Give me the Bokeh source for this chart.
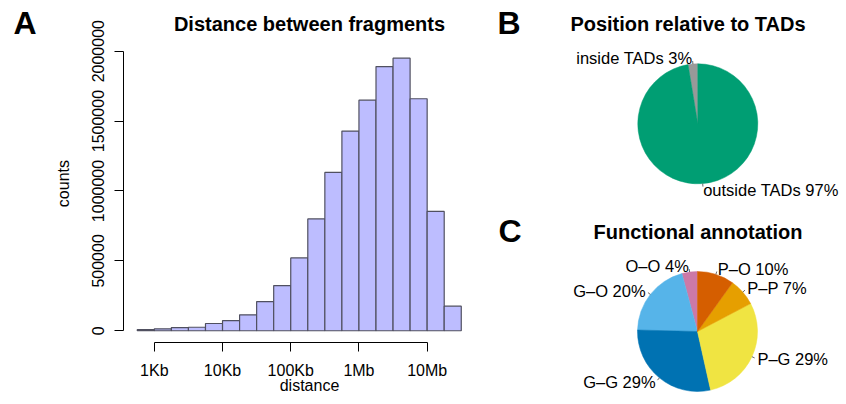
import math
from bokeh.plotting import figure
from bokeh.models import ColumnDataSource, FixedTicker, Label, Range1d
from bokeh.layouts import row, column
from bokeh.embed import file_html
from bokeh.resources import INLINE
from bokeh.core.properties import value, field

# ---------------- data ----------------
# Panel A: histogram of log10(distance), bins of 0.25 decades starting at 10^2.75
bin_start_log10 = 2.75
bin_width_log10 = 0.25
counts = [8000, 14000, 23000, 25000, 52000, 73000, 114000, 209000, 323000, 521000,
          800000, 1133000, 1429000, 1650000, 1890000, 1950000, 1660000, 854000, 176000]
x_ticks = [1000, 10000, 100000, 1000000, 10000000]
x_tick_labels = ["1Kb", "10Kb", "100Kb", "1Mb", "10Mb"]
y_ticks = [0, 500000, 1000000, 1500000, 2000000]
y_tick_labels = ["0", "500000", "1000000", "1500000", "2000000"]
x_lim_log10 = (2.75, 7.8)
y_lim = (0, 2100000)

# Panel B (counter-clockwise from 12 o'clock)
tad_names = ["inside TADs", "outside TADs"]
tad_pct = [2.6, 97.4]
tad_colors = ["#999999", "#009E73"]

# Panel C (counter-clockwise from 12 o'clock)
func_names = ["O\u2013O", "G\u2013O", "G\u2013G", "P\u2013G", "P\u2013P", "P\u2013O"]
func_pct = [4.2, 20.4, 28.9, 29.2, 7.4, 9.9]
func_colors = ["#CC79A7", "#56B4E9", "#0072B2", "#F0E442", "#E69F00", "#D55E00"]

FONT = "Liberation Sans"
TXT = "16px"

# ---------------- layout geometry (pixels) ----------------
H = 402                 # total height
L_W = 75                # strip holding the letter A and the y-axis title
A_W = 421               # histogram figure width
P_W = 348               # pie figures width
FRAME_LEFT, FRAME_RIGHT = 48, 1
FRAME_BOTTOM_BORDER = 60
PLOT_TOP_PX = 25        # where the y-limit sits inside the frame
frame_h = H - FRAME_BOTTOM_BORDER
frame_w = A_W - FRAME_LEFT - FRAME_RIGHT

# ---------------- strip: letter A + "counts" ----------------
pL = figure(width=L_W, height=H, x_range=Range1d(0, L_W), y_range=Range1d(0, frame_h),
            output_backend="svg", toolbar_location=None, title=None,
            min_border_left=0, min_border_right=0, min_border_top=0,
            min_border_bottom=FRAME_BOTTOM_BORDER,
            x_axis_location=None, y_axis_location=None)
pL.outline_line_color = None
pL.grid.visible = False
pL.add_layout(Label(x=13, y=frame_h - 22.5, text="A", text_font=FONT, text_font_size="32px",
                    text_font_style="bold", text_align="left", text_baseline="alphabetic",
                    text_color="black"))
pL.add_layout(Label(x=63, y=frame_h - 159.5, text="counts", angle=math.pi / 2,
                    text_font=FONT, text_font_size=TXT, text_align="right",
                    text_baseline="alphabetic", text_color="black"))

# ---------------- panel A ----------------
lo, hi = x_lim_log10
xpad = 0.04 * (hi - lo)
ypad = 0.04 * (y_lim[1] - y_lim[0])
y_bottom = y_lim[0] - ypad
y_plot_top = y_lim[1] + ypad
px_per_count = (frame_h - PLOT_TOP_PX) / (y_plot_top - y_bottom)
y_top = y_plot_top + PLOT_TOP_PX / px_per_count

pA = figure(width=A_W, height=H, x_axis_type="log",
            x_range=Range1d(10 ** (lo - xpad), 10 ** (hi + xpad)),
            y_range=Range1d(y_bottom, y_top),
            output_backend="svg", toolbar_location=None, title=None,
            min_border_left=FRAME_LEFT, min_border_right=FRAME_RIGHT, min_border_top=0,
            min_border_bottom=FRAME_BOTTOM_BORDER)
pA.outline_line_color = None
pA.grid.visible = False
pA.background_fill_color = "white"
pA.border_fill_color = "white"

n = len(counts)
edges = [10 ** (bin_start_log10 + i * bin_width_log10) for i in range(n + 1)]
srcA = ColumnDataSource(dict(left=edges[:-1], right=edges[1:], top=counts, bottom=[0] * n))
pA.quad(left="left", right="right", top="top", bottom="bottom", source=srcA,
        fill_color="#BDBDFF", line_color="#505060", line_width=1.2)

xa = pA.xaxis[0]
xa.ticker = FixedTicker(ticks=x_ticks, minor_ticks=[])
xa.major_label_overrides = {t: l for t, l in zip(x_ticks, x_tick_labels)}
xa.bounds = (x_ticks[0], x_ticks[-1])
xa.axis_label = "distance"
xa.axis_label_standoff = -5
xa.major_label_standoff = 10

ya = pA.yaxis[0]
ya.ticker = FixedTicker(ticks=y_ticks, minor_ticks=[])
ya.major_label_overrides = {t: l for t, l in zip(y_ticks, y_tick_labels)}
ya.bounds = (y_ticks[0], y_ticks[-1])
ya.major_label_orientation = "vertical"
ya.major_label_standoff = 10

for ax in (xa, ya):
    ax.minor_tick_line_color = None
    ax.minor_tick_out = 0
    ax.major_tick_in = 0
    ax.major_tick_out = 9
    ax.axis_line_color = "black"
    ax.major_tick_line_color = "black"
    ax.major_label_text_font = FONT
    ax.major_label_text_font_size = TXT
    ax.major_label_text_color = "black"
    ax.axis_label_text_font = FONT
    ax.axis_label_text_font_size = TXT
    ax.axis_label_text_font_style = "normal"
    ax.axis_label_text_color = "black"

pA.add_layout(Label(x=frame_w / 2, y=frame_h - 23.3, x_units="screen", y_units="screen",
                    text="Distance between fragments",
                    text_font=FONT, text_font_size="20px", text_font_style="bold",
                    text_align="center", text_baseline="alphabetic", text_color="black"))


# ---------------- pies ----------------
def pie_panel(names, pct, colors, fig_w, fig_h, center_px, title, title_px, letter, letter_px):
    scale = 60.0  # pixels per pie radius
    cx, cy = center_px
    p = figure(width=fig_w, height=fig_h,
               x_range=Range1d(-cx / scale, (fig_w - cx) / scale),
               y_range=Range1d(-(fig_h - cy) / scale, cy / scale),
               output_backend="svg", toolbar_location=None, min_border=0, title=None,
               x_axis_location=None, y_axis_location=None)
    p.outline_line_color = None
    p.grid.visible = False
    total = sum(pct)
    starts, ends, mids = [], [], []
    cum = 0.0
    for v in pct:
        f = v / total
        starts.append(math.pi / 2 + 2 * math.pi * cum)
        ends.append(math.pi / 2 + 2 * math.pi * (cum + f))
        mids.append(math.pi / 2 + 2 * math.pi * (cum + f / 2))
        cum += f
    src = ColumnDataSource(dict(
        start=starts, end=ends, color=colors,
        x0=[math.cos(m) for m in mids], y0=[math.sin(m) for m in mids],
        x1=[1.05 * math.cos(m) for m in mids], y1=[1.05 * math.sin(m) for m in mids],
        tx=[1.1 * math.cos(m) for m in mids], ty=[1.1 * math.sin(m) for m in mids],
        label=[f"{nm} {round(v)}%" for nm, v in zip(names, pct)],
        align=["left" if math.cos(m) >= 0 else "right" for m in mids]))
    p.wedge(x=0, y=0, radius=1, start_angle="start", end_angle="end", direction="anticlock",
            fill_color="color", line_color="color", line_width=0.5, source=src)
    p.segment(x0="x0", y0="y0", x1="x1", y1="y1", line_color="#444444", line_width=0.8, source=src)
    p.text(x="tx", y="ty", text="label", text_align=field("align"), text_baseline="middle",
           text_font=value(FONT), text_font_size=value("16.5px"), text_color="black", source=src)
    p.add_layout(Label(x=title_px[0] / scale, y=title_px[1] / scale, text=title,
                       text_font=FONT, text_font_size="20px", text_font_style="bold",
                       text_align="center", text_baseline="alphabetic", text_color="black"))
    p.add_layout(Label(x=letter_px[0] / scale, y=letter_px[1] / scale, text=letter,
                       text_font=FONT, text_font_size="32px", text_font_style="bold",
                       text_align="left", text_baseline="alphabetic", text_color="black"))
    return p


pie_x0 = L_W + A_W
pB = pie_panel(tad_names, tad_pct, tad_colors, P_W, 200, (697.3 - pie_x0, 123.3),
               "Position relative to TADs", (-9.8, 99.8), "B", (-200.3, 100.8))
pC = pie_panel(func_names, func_pct, func_colors, P_W, H - 200, (697.0 - pie_x0, 131.0),
               "Functional annotation", (0.5, 99.3), "C", (-199.0, 101.0))

layout = row(pL, pA, column(pB, pC, spacing=0), spacing=0)
open("out.html", "w").write(file_html(layout, INLINE))
